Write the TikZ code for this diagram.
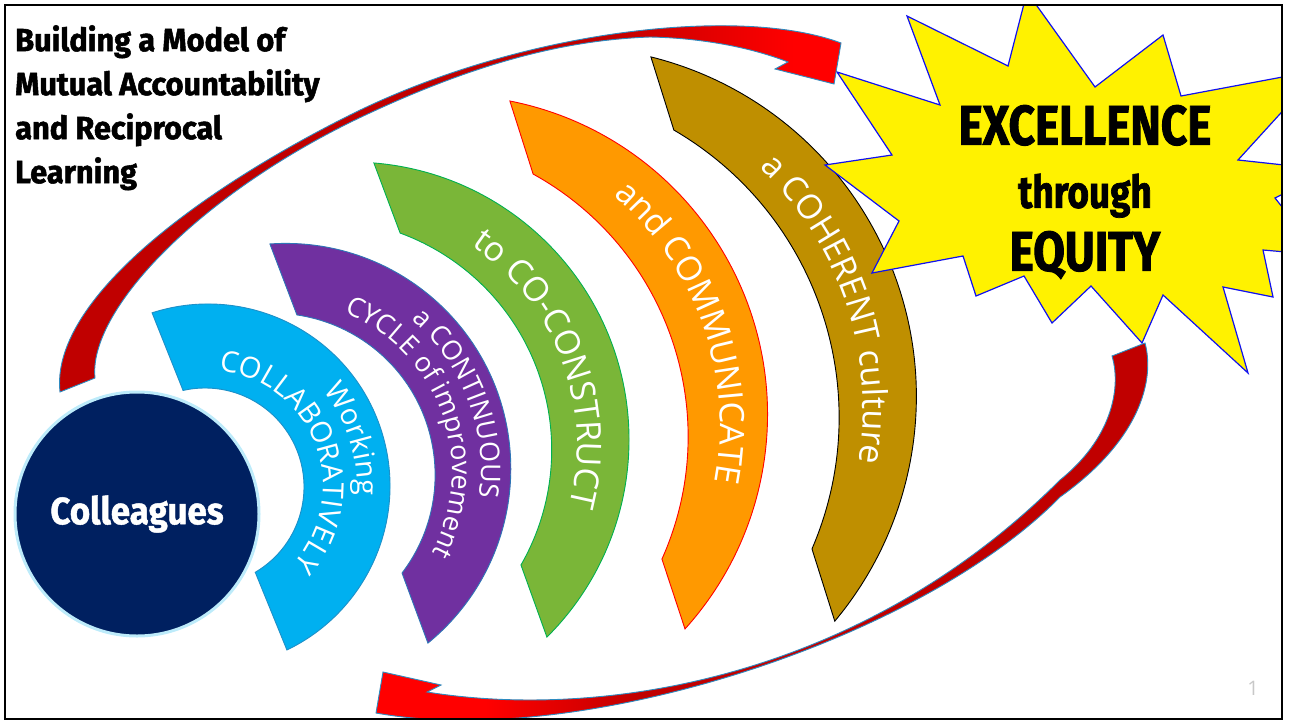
\documentclass[tikz,border=0pt]{standalone}
\usepackage{fontspec}
\usetikzlibrary{calc,decorations.text}
\newfontfamily\headfont[FakeStretch=0.82, FakeBold=1.6]{Fira Sans}
\newfontfamily\titlefont[FakeStretch=0.96, FakeBold=1.6]{Fira Sans}
\newfontfamily\circlefont[FakeStretch=0.92, FakeBold=1.2]{Fira Sans}
\newfontfamily\bandfont{Open Sans}
\definecolor{navy}{HTML}{002060}
\definecolor{glow}{HTML}{BDEBFA}
\definecolor{bandblue}{HTML}{00B0F0}
\definecolor{bandblueline}{HTML}{1E90C8}
\definecolor{bandpurple}{HTML}{7030A0}
\definecolor{bandpurpleline}{HTML}{2E75B6}
\definecolor{bandgreen}{HTML}{7AB638}
\definecolor{bandgreenline}{HTML}{00B050}
\definecolor{bandorange}{HTML}{FF9900}
\definecolor{bandbrown}{HTML}{BF8F00}
\definecolor{arrowdark}{HTML}{C00000}
\definecolor{arrowred}{HTML}{FF0000}
\definecolor{arrowline}{HTML}{2E8BC0}
\definecolor{starline}{HTML}{1010F0}
\definecolor{pagegray}{HTML}{C8C8C8}
\pgfdeclarehorizontalshading{uparrowshade}{100bp}{color(0bp)=(arrowdark); color(60bp)=(arrowdark); color(72bp)=(arrowred); color(100bp)=(arrowred)}
\pgfdeclarehorizontalshading{downarrowshade}{100bp}{color(0bp)=(arrowred); color(32bp)=(arrowred); color(42bp)=(arrowdark); color(100bp)=(arrowdark)}
\newcommand\smallband{\bandfont\fontsize{29}{30}\selectfont\color{white}}
\newcommand\midband{\bandfont\fontsize{27}{28}\selectfont\color{white}}
\newcommand\bigband{\bandfont\fontsize{34}{35}\selectfont\color{white}}
\tikzset{
  band/.style={line width=0.9pt},
  bandtext/.style={decorate, decoration={text along path, text align=center, text={#1}}},
  arrowshape/.style={draw=arrowline, line width=0.9pt, shade},
  burst/.style={fill=yellow, draw=starline, line width=1.2pt, line join=miter},
}
\begin{document}
\begin{tikzpicture}[x=1pt, y=-1pt]
\useasboundingbox (0,0) rectangle (1292,722);
\begin{scope}
\clip (5,5) rectangle (1282,719);
% arcs from the inside out
\draw[band, fill=bandblue, draw=bandblueline]
  ($(208,486)+(-107.9:182)$) arc[start angle=-107.9, end angle=64.3, radius=182]
  -- ($(205,487)+(59.5:99)$) arc[start angle=59.5, end angle=-102.8, radius=99] -- cycle;
\draw[band, fill=bandpurple, draw=bandpurpleline]
  ($(285.6,468.6)+(-94:225.2)$) arc[start angle=-94, end angle=50.8, radius=225.2]
  -- ($(273.3,475)+(37.3:161.8)$) arc[start angle=37.3, end angle=-81.6, radius=161.8] -- cycle;
\draw[band, fill=bandgreen, draw=bandgreenline]
  ($(351.1,439.9)+(-85.3:277.9)$) arc[start angle=-85.3, end angle=45.2, radius=277.9]
  -- ($(320.8,449.9)+(29.9:230.9)$) arc[start angle=29.9, end angle=-69.9, radius=230.9] -- cycle;
\draw[band, fill=bandorange, draw=red]
  ($(447.8,414.6)+(-78.8:319.7)$) arc[start angle=-78.8, end angle=42.1, radius=319.7]
  -- ($(388.2,436.6)+(24.1:299.9)$) arc[start angle=24.1, end angle=-61.1, radius=299.9] -- cycle;
\draw[band, fill=bandbrown, draw=black]
  ($(566.2,396.6)+(-76:350.1)$) arc[start angle=-76, end angle=39.9, radius=350.1]
  -- ($(506.6,417.4)+(23.3:332.5)$) arc[start angle=23.3, end angle=-59.8, radius=332.5] -- cycle;
% words on the arcs
\path[bandtext={|\smallband|COLLABORATIVELY}] ($(207,486)+(-121:116)$) arc[start angle=-121, end angle=79, radius=116];
\path[bandtext={|\smallband|Working}] ($(207,486)+(-118:150)$) arc[start angle=-118, end angle=82, radius=150];
\path[bandtext={|\midband|CYCLE of improvement}] ($(280,472)+(-90:172)$) arc[start angle=-90, end angle=50, radius=172];
\path[bandtext={|\midband|a CONTINUOUS}] ($(280,472)+(-81:201)$) arc[start angle=-81, end angle=39, radius=201];
\path[bandtext={|\bigband|to CO-CONSTRUCT}] ($(336,445)+(-90.6:241)$) arc[start angle=-90.6, end angle=49.4, radius=241];
\path[bandtext={|\bigband|and COMMUNICATE}] ($(418,426)+(-79.5:302)$) arc[start angle=-79.5, end angle=40.5, radius=302];
\path[bandtext={|\bigband|a COHERENT culture}] ($(536,407)+(-78.6:327)$) arc[start angle=-78.6, end angle=41.4, radius=327];
% burst
\draw[burst] (837,72) -- (940,105) -- (907,16) -- (1008,66) -- (1027,-8) -- (1095,87)
  -- (1163,35) -- (1181,96) -- (1320,70) -- (1238,160) -- (1330,170) -- (1275,198)
  -- (1320,255) -- (1263,250) -- (1273,297) -- (1223,287) -- (1248,373) -- (1163,295)
  -- (1142,343) -- (1091,286) -- (1052,323) -- (1024,276) -- (976,296) -- (963,256)
  -- (872,273) -- (899,221) -- (825,165) -- (892,155) -- cycle;
\node[align=center, font=\headfont\bfseries\fontsize{56}{63}\selectfont, inner sep=0pt] (goal) at (1085,192)
  {EXCELLENCE\\{\fontsize{45}{63}\selectfont through}\\EQUITY};
% colleagues
\node[circle, fill=navy, draw=glow, line width=3pt, minimum size=244pt, inner sep=0pt,
  text=white, font=\circlefont\bfseries\fontsize{38}{40}\selectfont] (colleagues) at (137,514) {Colleagues};
% arrows
\coordinate (uptail) at (60,392);
\coordinate (uphead) at (834,84);
\coordinate (downtail) at (1145,343);
\coordinate (downhead) at (383,672);
\path[arrowshape, shading=uparrowshade] (uptail) .. controls (50,300) and (200,190) .. (350,115)
  .. controls (520,30) and (740,5) .. (841,43) -- (uphead) -- (775,69) -- (788,62)
  .. controls (750,47) and (700,38) .. (650,37) .. controls (570,40) and (480,60) .. (355,120)
  .. controls (195,198) and (88,312) .. (95,378) -- cycle;
\path[arrowshape, shading=downarrowshade] (downtail) .. controls (1155,380) and (1140,440) .. (1060,497)
  .. controls (920,640) and (580,750) .. (376,713) -- (downhead) -- (441,685) -- (427,692)
  .. controls (600,720) and (860,680) .. (1060,480) .. controls (1110,440) and (1122,390) .. (1112,356) -- cycle;
\end{scope}
\node[anchor=north west, align=left, inner sep=0pt, font=\titlefont\bfseries\fontsize{32}{44}\selectfont] (title) at (15,25)
  {Building a Model of\\Mutual Accountability\\and Reciprocal\\Learning};
\node[text=pagegray, font=\bandfont\fontsize{20}{22}\selectfont] (pagenum) at (1253,688) {1};
\draw[line width=2.5pt] (5,5) rectangle (1282,719);
\end{tikzpicture}
\end{document}
